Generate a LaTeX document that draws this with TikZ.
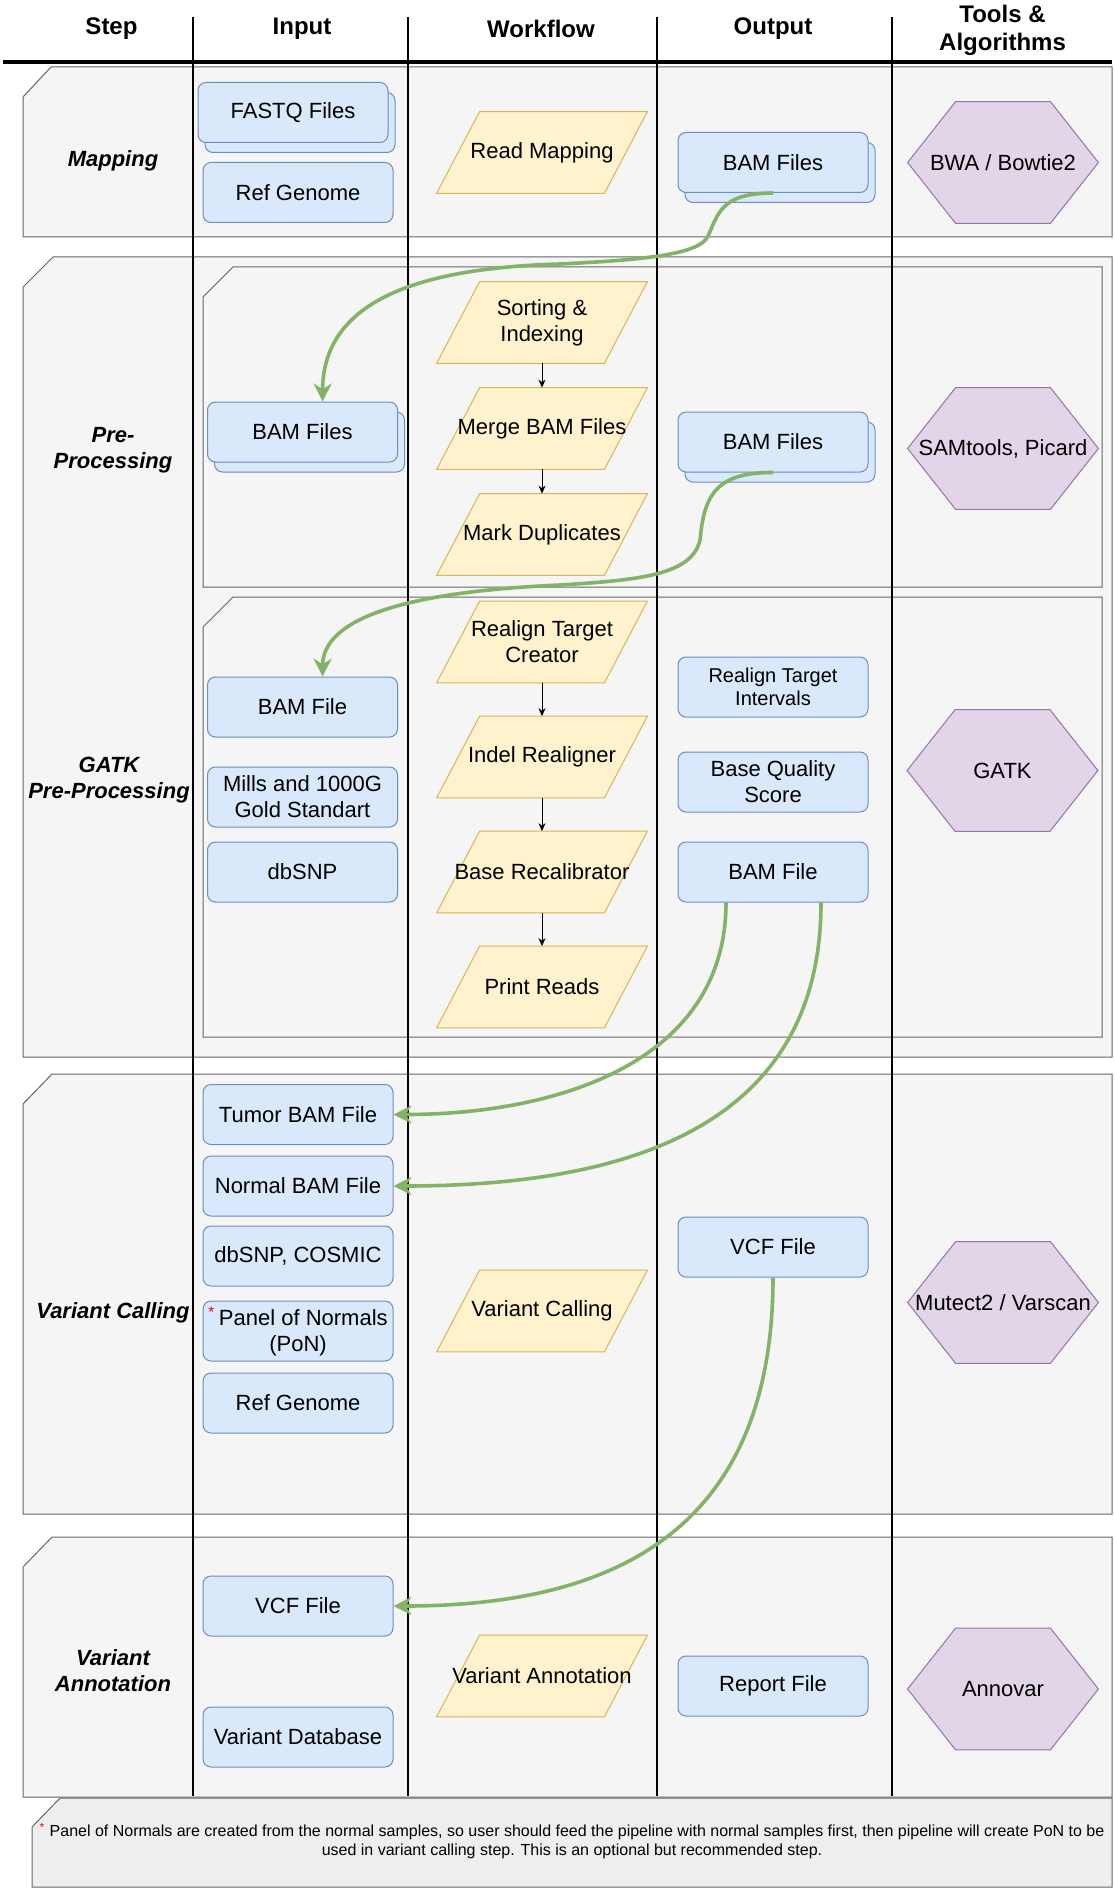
\documentclass[tikz,border=0pt]{standalone}
\usepackage{fontspec}
\setmainfont{Liberation Sans}
\usetikzlibrary{arrows.meta,shadows,backgrounds}

\definecolor{lanefill}{HTML}{F5F5F5}
\definecolor{laneline}{HTML}{666666}
\definecolor{notefill}{HTML}{EEEEEE}
\definecolor{boxfill}{HTML}{DAE8FC}
\definecolor{boxline}{HTML}{6C8EBF}
\definecolor{wffill}{HTML}{FFF2CC}
\definecolor{wfline}{HTML}{D6B656}
\definecolor{toolfill}{HTML}{E1D5E7}
\definecolor{toolline}{HTML}{9673A6}
\definecolor{flow}{HTML}{82B366}

\begin{document}
\begin{tikzpicture}[x=0.5pt,y=-0.5pt,>={Stealth[length=9pt,width=9pt]},
    every node/.style={font=\fontsize{11}{13}\selectfont},
    head/.style={font=\fontsize{12}{14}\selectfont\bfseries,align=center},
    stage/.style={font=\fontsize{11}{13}\selectfont\bfseries\itshape,align=center},
    data/.style={draw=boxline,fill=boxfill,rounded corners=4pt,line width=0.5pt,
      minimum width=95pt,minimum height=30pt,inner sep=1pt,align=center},
    files/.style={data,copy shadow={shadow xshift=3.5pt,shadow yshift=-5pt,draw=boxline,fill=boxfill}},
    task/.style={minimum width=105pt,minimum height=40.5pt,inner sep=0pt,align=center},
    tool/.style={minimum width=95pt,minimum height=60.5pt,inner sep=0pt,align=center},
    lane/.style={draw=laneline,fill=lanefill,line width=0.5pt},
    link/.style={->,>={Stealth[length=4pt,width=3.5pt]},line width=0.5pt},
    flowline/.style={->,draw=flow,line width=1.8pt}]
  \useasboundingbox (0,0) rectangle (1114,1888);

  \node[head] (hstep) at (111.5,29) {Step};
  \node[head] (hin) at (302,29) {Input};
  \node[head] (hwf) at (541,29) {Workflow};
  \node[head] (hout) at (773,29) {Output};
  \node[head] (htool) at (1002.5,30) {Tools \&\\Algorithms};

  % mapping
  \node[stage] (smap) at (113,161) {Mapping};
  \node[files] (fastq) at (293,112.5) {FASTQ Files};
  \node[data] (refA) at (298,192.5) {Ref Genome};
  \node[task] (rm) at (542,152.5) {Read Mapping};
  \node[files] (bamA) at (773,162.5) {BAM Files};
  \node[tool] (bwa) at (1003,162.5) {BWA / Bowtie2};

  % pre-processing
  \node[stage] (spre) at (113,450) {Pre-\\Processing};
  \node[files] (bamB) at (302.5,432) {BAM Files};
  \node[task] (si) at (542,322.5) {Sorting \&\\Indexing};
  \node[task] (mb) at (542,428.5) {Merge BAM Files};
  \node[task] (md) at (542,534.5) {Mark Duplicates};
  \node[files] (bamC) at (773,442) {BAM Files};
  \node[tool] (sam) at (1003,448.5) {SAMtools, Picard};
  \draw[link] (si) -- (mb);
  \draw[link] (mb) -- (md);

  % gatk
  \node[stage] (sgatk) at (109,780) {GATK\\Pre-Processing};
  \node[data] (bamD) at (302.5,707) {BAM File};
  \node[data] (mills) at (302.5,797) {Mills and 1000G\\Gold Standart};
  \node[data] (dbsnpA) at (302.5,872) {dbSNP};
  \node[task] (rtc) at (542,642) {Realign Target\\Creator};
  \node[task] (ir) at (542,757) {Indel Realigner};
  \node[task] (br) at (542,872) {Base Recalibrator};
  \node[task] (pr) at (542,987) {Print Reads};
  \node[data,font=\fontsize{10}{11.7}\selectfont] (rti) at (773,687) {Realign Target\\Intervals};
  \node[data] (bqs) at (773,782) {Base Quality\\Score};
  \node[data] (bamE) at (773,872) {BAM File};
  \node[tool] (gatk) at (1002.5,770.5) {GATK};
  \draw[link] (rtc) -- (ir);
  \draw[link] (ir) -- (br);
  \draw[link] (br) -- (pr);

  % variant calling
  \node[stage] (scall) at (113,1313) {Variant Calling};
  \node[data] (tumor) at (298,1114.5) {Tumor BAM File};
  \node[data] (normal) at (298,1186) {Normal BAM File};
  \node[data] (cosmic) at (298,1256) {dbSNP, COSMIC};
  \node[data] (pon) at (298,1331) {{\color{red}\textsuperscript{*}}\,Panel of Normals\\(PoN)};
  \node[data] (refB) at (298,1403) {Ref Genome};
  \node[task] (vc) at (542,1311) {Variant Calling};
  \node[data] (vcfA) at (773,1247) {VCF File};
  \node[tool] (mut) at (1003,1302.5) {Mutect2 / Varscan};

  % variant annotation
  \node[stage] (sann) at (113,1671) {Variant\\Annotation};
  \node[data] (vcfB) at (298,1606) {VCF File};
  \node[data] (vdb) at (298,1737) {Variant Database};
  \node[task] (va) at (542,1676) {Variant Annotation};
  \node[data] (rep) at (773,1686) {Report File};
  \node[tool] (ann) at (1003,1689) {Annovar};

  \node[font=\fontsize{8}{9.6}\selectfont,align=center] (note) at (572,1841)
    {{\color{red}\textsuperscript{*}} Panel of Normals are created from the normal samples, so user should feed the pipeline with normal samples first, then pipeline will create PoN to be\\
     used in variant calling step. This is an optional but recommended step.};

  \draw[flowline] (bamA.south) .. controls (720,193) and (718,215) .. (708,236)
    .. controls (700,255) and (640,260) .. (560,264)
    .. controls (420,268) and (323,300) .. ([xshift=10pt]bamB.north);
  \draw[flowline] (bamC.south) .. controls (712,472) and (704,500) .. (700,540)
    .. controls (692,575) and (640,580) .. (560,585)
    .. controls (400,592) and (323,620) .. ([xshift=10pt]bamD.north);
  \draw[flowline] ([xshift=-23.5pt]bamE.south) .. controls +(0,158) and +(167,0) .. (tumor.east);
  \draw[flowline] ([xshift=24pt]bamE.south) .. controls +(0,228) and +(227,0) .. (normal.east);
  \draw[flowline] (vcfA.south) .. controls +(0,263) and +(207,0) .. (vcfB.east);

  \begin{scope}[on background layer]
    \draw[lane] (23,97) -- (51,67) -- (1112,67) -- (1112,237) -- (23,237) -- cycle;
    \draw[lane] (23,287) -- (53,257) -- (1112,257) -- (1112,1057) -- (23,1057) -- cycle;
    \draw[lane] (203,297) -- (233,267) -- (1102,267) -- (1102,587) -- (203,587) -- cycle;
    \draw[lane] (203,627) -- (233,597) -- (1102,597) -- (1102,1037) -- (203,1037) -- cycle;
    \draw[lane] (23,1104) -- (52,1074) -- (1112,1074) -- (1112,1514) -- (23,1514) -- cycle;
    \draw[lane] (23,1567) -- (52,1537) -- (1112,1537) -- (1112,1797) -- (23,1797) -- cycle;
    \draw[lane,fill=notefill] (32,1827) -- (60,1798) -- (1112,1798) -- (1112,1887) -- (32,1887) -- cycle;

    \draw[line width=2pt] (3,62) -- (1112,62);
    \foreach \x in {192.5,408,657,892}
      \draw[line width=1pt] (\x,17) -- (\x,1796);

    \foreach \t in {rm,si,mb,md,rtc,ir,br,pr,vc,va}
      \draw[draw=wfline,fill=wffill,line width=0.5pt] ([xshift=21.5pt]\t.north west) -- (\t.north east)
        -- ([xshift=-21.5pt]\t.south east) -- (\t.south west) -- cycle;
    \foreach \t in {bwa,sam,gatk,mut,ann}
      \draw[draw=toolline,fill=toolfill,line width=0.5pt] (\t.west) -- ([xshift=24pt]\t.north west)
        -- ([xshift=-24pt]\t.north east) -- (\t.east) -- ([xshift=-24pt]\t.south east)
        -- ([xshift=24pt]\t.south west) -- cycle;
  \end{scope}
\end{tikzpicture}
\end{document}
